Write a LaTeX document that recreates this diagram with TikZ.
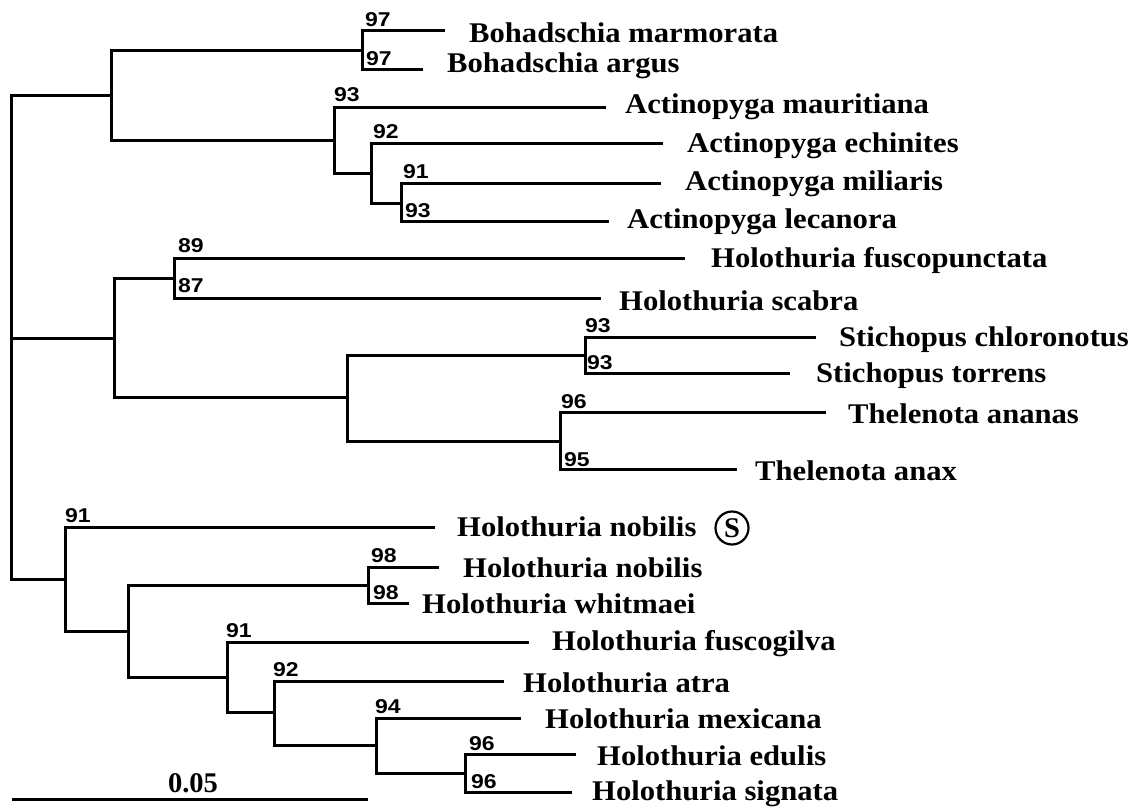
\documentclass[tikz,border=0pt]{standalone}
\usepackage{fontspec}
\setmainfont{Liberation Serif}
\newfontfamily\numfont{Liberation Sans}
\usepackage{graphicx}
\newcommand\taxonfont[1]{\scalebox{1.075}[1]{\fontsize{28.5}{28.5}\selectfont\bfseries #1}}
\newcommand\bootfont[1]{\scalebox{1.15}[1]{\numfont\bfseries\fontsize{20}{20}\selectfont #1}}
\begin{document}
\begin{tikzpicture}[x=1pt,y=-1pt,
  branch/.style={line width=3pt, line join=miter, line cap=butt, black},
  taxon/.style={inner sep=0pt, anchor=base west},
  boot/.style={inner sep=0pt, anchor=base west}]
\useasboundingbox (0,0) rectangle (1144,807);
% internal nodes
\coordinate (root) at (11,338);
\coordinate (A) at (111,95);
\coordinate (Bo) at (362,50);
\coordinate (Ac1) at (334,140);
\coordinate (Ac2) at (371,173);
\coordinate (Ac3) at (401,203);
\coordinate (H) at (114,338);
\coordinate (Hf) at (174,278);
\coordinate (ST) at (347,397);
\coordinate (St) at (585,355);
\coordinate (Th) at (560,441);
\coordinate (N) at (65,579);
\coordinate (N2) at (128,631);
\coordinate (Nw) at (368,585);
\coordinate (F) at (227,677);
\coordinate (At) at (274,712);
\coordinate (Mx) at (376,745);
\coordinate (Es) at (465,773);
% tips
\coordinate (t1) at (445,30);
\coordinate (t2) at (423,69);
\coordinate (t3) at (606,107);
\coordinate (t4) at (663,143);
\coordinate (t5) at (661,183);
\coordinate (t6) at (609,221);
\coordinate (t7) at (685,258);
\coordinate (t8) at (601,298);
\coordinate (t9) at (816,337);
\coordinate (t10) at (790,373);
\coordinate (t11) at (826,412);
\coordinate (t12) at (737,469);
\coordinate (t13) at (435,527);
\coordinate (t14) at (439,567);
\coordinate (t15) at (409,603);
\coordinate (t16) at (529,642);
\coordinate (t17) at (504,681);
\coordinate (t18) at (521,718);
\coordinate (t19) at (576,754);
\coordinate (t20) at (572,792);
% branches
\draw[branch] (A) -| (root) |- (N);
\draw[branch] (root) -- (H);
\draw[branch] (Bo) -| (A) |- (Ac1);
\draw[branch] (t1) -| (Bo) |- (t2);
\draw[branch] (t3) -| (Ac1) |- (Ac2);
\draw[branch] (t4) -| (Ac2) |- (Ac3);
\draw[branch] (t5) -| (Ac3) |- (t6);
\draw[branch] (Hf) -| (H) |- (ST);
\draw[branch] (t7) -| (Hf) |- (t8);
\draw[branch] (St) -| (ST) |- (Th);
\draw[branch] (t9) -| (St) |- (t10);
\draw[branch] (t11) -| (Th) |- (t12);
\draw[branch] (t13) -| (N) |- (N2);
\draw[branch] (Nw) -| (N2) |- (F);
\draw[branch] (t14) -| (Nw) |- (t15);
\draw[branch] (t16) -| (F) |- (At);
\draw[branch] (t17) -| (At) |- (Mx);
\draw[branch] (t18) -| (Mx) |- (Es);
\draw[branch] (t19) -| (Es) |- (t20);
% taxon labels
\node[taxon] (n1) at (469,42) {\taxonfont{Bohadschia marmorata}};
\node[taxon] (n2) at (447,72) {\taxonfont{Bohadschia argus}};
\node[taxon] (n3) at (625,113) {\taxonfont{Actinopyga mauritiana}};
\node[taxon] (n4) at (687,152) {\taxonfont{Actinopyga echinites}};
\node[taxon] (n5) at (685,190) {\taxonfont{Actinopyga miliaris}};
\node[taxon] (n6) at (627,228) {\taxonfont{Actinopyga lecanora}};
\node[taxon] (n7) at (711,267) {\taxonfont{Holothuria fuscopunctata}};
\node[taxon] (n8) at (619,310) {\taxonfont{Holothuria scabra}};
\node[taxon] (n9) at (839,346) {\taxonfont{Stichopus chloronotus}};
\node[taxon] (n10) at (816,382) {\taxonfont{Stichopus torrens}};
\node[taxon] (n11) at (848,423) {\taxonfont{Thelenota ananas}};
\node[taxon] (n12) at (755,480) {\taxonfont{Thelenota anax}};
\node[taxon] (n13) at (457,536) {\taxonfont{Holothuria nobilis}};
\node[taxon] (n14) at (463,577) {\taxonfont{Holothuria nobilis}};
\node[taxon] (n15) at (422,613) {\taxonfont{Holothuria whitmaei}};
\node[taxon] (n16) at (552,650) {\taxonfont{Holothuria fuscogilva}};
\node[taxon] (n17) at (523,692) {\taxonfont{Holothuria atra}};
\node[taxon] (n18) at (545,728) {\taxonfont{Holothuria mexicana}};
\node[taxon] (n19) at (597,765) {\taxonfont{Holothuria edulis}};
\node[taxon] (n20) at (592,800) {\taxonfont{Holothuria signata}};
% circled S
\node[circle, draw, line width=2.2pt, minimum size=33pt, inner sep=0pt] (S) at (732,528)
  {\fontsize{28.5}{28.5}\selectfont\bfseries S};
% bootstrap values
\node[boot] (b1) at (365,26) {\bootfont{97}};
\node[boot] (b2) at (366,65) {\bootfont{97}};
\node[boot] (b3) at (334,101) {\bootfont{93}};
\node[boot] (b4) at (373,138) {\bootfont{92}};
\node[boot] (b5) at (403,178) {\bootfont{91}};
\node[boot] (b6) at (405,217) {\bootfont{93}};
\node[boot] (b7) at (178,252) {\bootfont{89}};
\node[boot] (b8) at (178,292) {\bootfont{87}};
\node[boot] (b9) at (585,332) {\bootfont{93}};
\node[boot] (b10) at (587,369) {\bootfont{93}};
\node[boot] (b11) at (561,408) {\bootfont{96}};
\node[boot] (b12) at (564,466) {\bootfont{95}};
\node[boot] (b13) at (65,522) {\bootfont{91}};
\node[boot] (b14) at (371,562) {\bootfont{98}};
\node[boot] (b15) at (373,599) {\bootfont{98}};
\node[boot] (b16) at (226,637) {\bootfont{91}};
\node[boot] (b17) at (273,676) {\bootfont{92}};
\node[boot] (b18) at (375,713) {\bootfont{94}};
\node[boot] (b19) at (469,750) {\bootfont{96}};
\node[boot] (b20) at (471,788) {\bootfont{96}};
% scale bar
\coordinate (sbL) at (12,799);
\coordinate (sbR) at (368,799);
\draw[branch] (sbL) -- (sbR);
\node[inner sep=0pt, anchor=base] (sbt) at (193,792) {\fontsize{28.5}{28.5}\selectfont\bfseries 0.05};
\end{tikzpicture}
\end{document}
